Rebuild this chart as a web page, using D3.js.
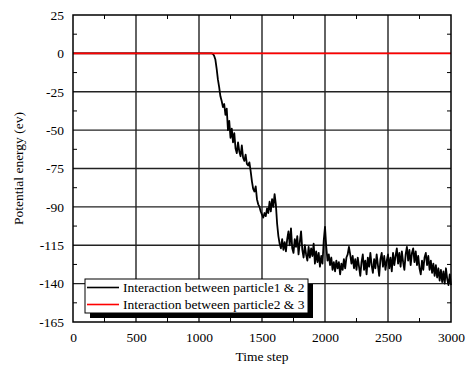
<!DOCTYPE html>
<html>
<head>
<meta charset="utf-8">
<script src="https://cdn.jsdelivr.net/npm/d3@7"></script>
<style>
  body { margin: 0; background: #fff; }
  svg { display: block; font-family: "Liberation Serif", "Times New Roman", serif; }
</style>
</head>
<body>
<svg id="chart" width="472" height="370" viewBox="0 0 472 370"></svg>
<script>
// x axis ticks (time step)
const xTicks = [0, 500, 1000, 1500, 2000, 2500, 3000];
// y axis tick labels as printed on the original (evenly spaced, odd values)
const yTicks = [25, 0, -25, -50, -75, -90, -115, -140, -165];

const seriesNames = ["Interaction between particle1 & 2", "Interaction between particle2 & 3"];
const seriesColors = ["#000000", "#ff0000"];

// particle 2 & 3 stays at zero all the way
const pe23 = [[0, 0], [3000, 0]];

// particle 1 & 2: flat at zero until the drop, then sampled every 10 steps
const pe12Flat = [[0, 0], [1100, 0]];
const dropStart = 1100;
const sampleEvery = 10;
const pe12Drop = [
  0, -0.3, -1.5, -4, -10, -17, -22, -28, -31, -35,
  -33, -40, -36, -50, -44, -55, -49, -58, -52, -62,
  -65, -58, -64, -67, -60, -68, -70, -66, -72, -73,
  -71, -76, -80, -83, -84, -82, -87, -89, -90, -93,
  -95, -97, -94, -96, -91, -94, -88, -93, -87, -90,
  -85, -89, -101, -109, -114, -117, -111, -118, -113, -119,
  -111, -106, -115, -104, -117, -120, -111, -116, -109, -121,
  -113, -106, -118, -123, -115, -121, -125, -116, -123, -117,
  -122, -114, -127, -119, -126, -120, -129, -122, -127, -112,
  -103, -116, -125, -121, -128, -123, -131, -126, -132, -125,
  -130, -126, -134, -127, -131, -124, -130, -123, -121, -116,
  -121, -127, -122, -130, -124, -131, -123, -129, -135, -126,
  -121, -131, -125, -134, -123, -129, -120, -128, -133, -124,
  -130, -121, -128, -135, -124, -120, -129, -122, -131, -125,
  -121, -130, -123, -132, -120, -128, -122, -117, -127, -120,
  -129, -119, -126, -131, -121, -116, -125, -118, -128, -120,
  -117, -126, -119, -128, -122, -130, -134, -125, -131, -123,
  -120, -128, -122, -131, -125, -133, -127, -135, -128, -136,
  -130, -138, -131, -139, -132, -140, -130, -137, -141, -134,
  -141
];

const width = 472, height = 370;
const margin = {top: 15, right: 21, bottom: 48, left: 73};
const innerW = width - margin.left - margin.right;
const innerH = height - margin.top - margin.bottom;

const svg = d3.select("#chart");
const g = svg.append("g").attr("transform", `translate(${margin.left},${margin.top})`);

const x = d3.scaleLinear().domain([0, 3000]).range([0, innerW]);
// labels are evenly spaced though not evenly valued, so a polylinear scale
const y = d3.scaleLinear()
  .domain(yTicks)
  .range(yTicks.map((d, i) => i * innerH / (yTicks.length - 1)));

const xMinor = d3.range(250, 3000, 500);
const yMinor = yTicks.slice(1).map((d, i) => (yTicks[i] + d) / 2);

// grid
g.append("g")
  .selectAll("line")
  .data(xTicks.slice(1, -1))
  .join("line")
  .attr("x1", d => x(d)).attr("x2", d => x(d))
  .attr("y1", 0).attr("y2", innerH)
  .attr("stroke", "#222").attr("stroke-width", 1.4);

g.append("g")
  .selectAll("line")
  .data(yTicks.slice(1, -1))
  .join("line")
  .attr("y1", d => y(d)).attr("y2", d => y(d))
  .attr("x1", 0).attr("x2", innerW)
  .attr("stroke", "#222").attr("stroke-width", 1.4);

// minor ticks on all four sides, pointing in
const tk = 4;
const minorG = g.append("g").attr("stroke", "#000").attr("stroke-width", 1);
xMinor.forEach(d => {
  minorG.append("line").attr("x1", x(d)).attr("x2", x(d)).attr("y1", 0).attr("y2", tk);
  minorG.append("line").attr("x1", x(d)).attr("x2", x(d)).attr("y1", innerH).attr("y2", innerH - tk);
});
yMinor.forEach(d => {
  minorG.append("line").attr("y1", y(d)).attr("y2", y(d)).attr("x1", 0).attr("x2", tk);
  minorG.append("line").attr("y1", y(d)).attr("y2", y(d)).attr("x1", innerW).attr("x2", innerW - tk);
});

// axes (labels only, frame drawn separately)
const xAxis = g.append("g")
  .attr("transform", `translate(0,${innerH})`)
  .call(d3.axisBottom(x).tickValues(xTicks).tickSize(0).tickPadding(10).tickFormat(d3.format("d")));
const yAxis = g.append("g")
  .call(d3.axisLeft(y).tickValues(yTicks).tickSize(0).tickPadding(9).tickFormat(d => d));
[xAxis, yAxis].forEach(a => {
  a.select(".domain").remove();
  a.selectAll("text").attr("font-size", 13.5).attr("font-family", "Liberation Serif").attr("fill", "#000");
});

// lines
const line = d3.line().x(d => x(d[0])).y(d => y(d[1]));
const pe12 = pe12Flat.concat(pe12Drop.map((v, i) => [dropStart + i * sampleEvery, v]));

g.append("path")
  .datum(pe12)
  .attr("fill", "none")
  .attr("stroke", seriesColors[0])
  .attr("stroke-width", 1.8)
  .attr("stroke-linejoin", "round")
  .attr("d", line);

g.append("path")
  .datum(pe23)
  .attr("fill", "none")
  .attr("stroke", seriesColors[1])
  .attr("stroke-width", 1.6)
  .attr("d", line);

// frame
g.append("rect")
  .attr("x", 0).attr("y", 0)
  .attr("width", innerW).attr("height", innerH)
  .attr("fill", "none").attr("stroke", "#000").attr("stroke-width", 1.5);

// legend with drop shadow
const lg = g.append("g").attr("transform", "translate(12,264)");
const lw = 223, lh = 34;
lg.append("rect").attr("x", 5).attr("y", 5).attr("width", lw).attr("height", lh).attr("fill", "#000");
lg.append("rect").attr("x", 0).attr("y", 0).attr("width", lw).attr("height", lh)
  .attr("fill", "#fff").attr("stroke", "#000").attr("stroke-width", 1);
seriesNames.forEach((name, i) => {
  const yy = 8.5 + i * 17;
  lg.append("line").attr("x1", 2).attr("x2", 34).attr("y1", yy).attr("y2", yy)
    .attr("stroke", seriesColors[i]).attr("stroke-width", 1.6);
  lg.append("text").attr("x", 38).attr("y", yy).attr("dy", "0.35em")
    .attr("font-size", 13.5).text(name);
});

// axis titles
svg.append("text")
  .attr("x", margin.left + innerW / 2).attr("y", 361)
  .attr("text-anchor", "middle").attr("font-size", 13.5)
  .text("Time step");

svg.append("text")
  .attr("transform", `translate(23,${margin.top + innerH / 2}) rotate(-90)`)
  .attr("text-anchor", "middle").attr("font-size", 13.5)
  .text("Potential energy (ev)");
</script>
</body>
</html>
